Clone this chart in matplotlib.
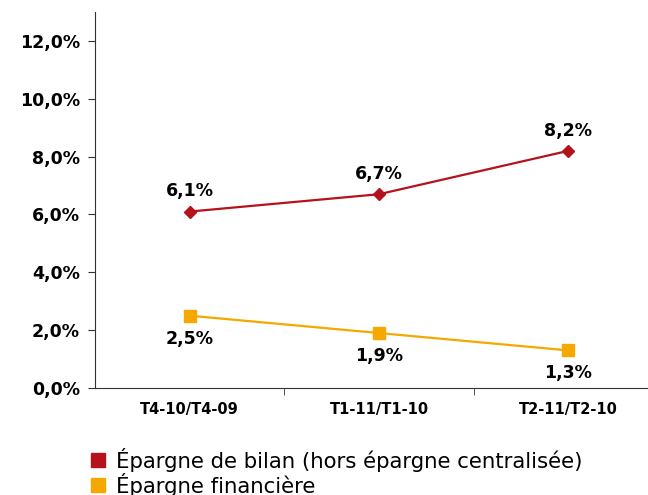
import matplotlib.pyplot as plt
from matplotlib.lines import Line2D
from matplotlib.ticker import FixedLocator, NullFormatter

# Data
categories = ["T4-10/T4-09", "T1-11/T1-10", "T2-11/T2-10"]
epargne_bilan = [6.1, 6.7, 8.2]
epargne_financiere = [2.5, 1.9, 1.3]
series_names = ["Épargne de bilan (hors épargne centralisée)", "Épargne financière"]
y_ticks = [0, 2, 4, 6, 8, 10, 12]

red = "#B5121B"
orange = "#F5A800"

def fmt(v):
    return f"{v:.1f}%".replace(".", ",")

fig = plt.figure(figsize=(6.48, 4.95), dpi=100)
ax = fig.add_axes([95 / 648, 107 / 495, 568 / 648, 376 / 495])

x = list(range(len(categories)))
ax.plot(x, epargne_bilan, color=red, lw=1.6, marker="D", ms=6, zorder=3)
ax.plot(x, epargne_financiere, color=orange, lw=1.6, marker="s", ms=8, zorder=3)

for xi, v in zip(x, epargne_bilan):
    ax.annotate(fmt(v), (xi, v), xytext=(0, 8), textcoords="offset points",
                ha="center", va="bottom", fontsize=12.5, fontweight="bold")
for xi, v in zip(x, epargne_financiere):
    ax.annotate(fmt(v), (xi, v), xytext=(0, -10), textcoords="offset points",
                ha="center", va="top", fontsize=12.5, fontweight="bold")

ax.set_xlim(-0.5, 2.5)
ax.set_ylim(0, 13)
ax.set_yticks(y_ticks)
ax.set_yticklabels([fmt(v) for v in y_ticks], fontsize=12.5, fontweight="bold")

ax.set_xticks(x)
ax.set_xticklabels(categories, fontsize=10.5, fontweight="bold")
ax.tick_params(axis="x", which="major", length=0, pad=10)
ax.xaxis.set_minor_locator(FixedLocator([0.5, 1.5, 2.5]))
ax.xaxis.set_minor_formatter(NullFormatter())
ax.tick_params(axis="x", which="minor", length=5, color="#333333")
ax.tick_params(axis="y", length=5, color="#333333", pad=6)

for s in ["top", "right"]:
    ax.spines[s].set_visible(False)
for s in ["left", "bottom"]:
    ax.spines[s].set_color("#333333")

handles = [
    Line2D([], [], color=red, marker="s", ls="", ms=10),
    Line2D([], [], color=orange, marker="s", ls="", ms=10),
]
fig.legend(handles, series_names, loc="upper left", bbox_to_anchor=(80 / 648, 1 - 437 / 495),
           frameon=False, fontsize=15.3, handlelength=0.7, handletextpad=0.5,
           labelspacing=0.05, borderpad=0)

fig.savefig("out.png", dpi=100)
